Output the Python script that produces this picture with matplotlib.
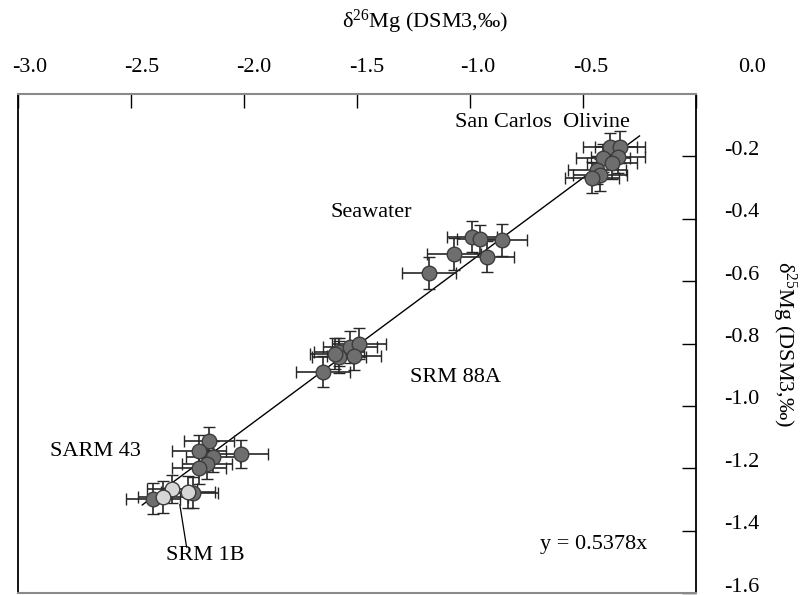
import numpy as np
import matplotlib
matplotlib.use("Agg")
import matplotlib.pyplot as plt
from matplotlib import transforms

plt.rcParams["font.family"] = ["Liberation Serif", "DejaVu Serif"]
plt.rcParams["mathtext.fontset"] = "custom"
plt.rcParams["mathtext.rm"] = "Liberation Serif"
plt.rcParams["mathtext.it"] = "Liberation Serif:italic"

# --- data (delta26Mg, delta25Mg, errors) ---
# San Carlos olivine
oliv_x = [-0.381, -0.336, -0.412, -0.345, -0.372, -0.438, -0.425, -0.460]
oliv_y = [-0.170, -0.170, -0.205, -0.202, -0.221, -0.244, -0.260, -0.269]
oliv_xe = [0.12, 0.11, 0.12, 0.12, 0.11, 0.13, 0.12, 0.12]
oliv_ye = [0.045, 0.050, 0.045, 0.050, 0.050, 0.045, 0.050, 0.050]

# seawater
sea_x = [-1.181, -1.071, -0.991, -0.956, -0.858, -0.925]
sea_y = [-0.574, -0.513, -0.458, -0.465, -0.468, -0.522]
sea_xe = [0.12, 0.12, 0.11, 0.10, 0.11, 0.12]
sea_ye = [0.050, 0.050, 0.050, 0.045, 0.050, 0.050]

# SRM 88A
srm88_x = [-1.650, -1.580, -1.580, -1.597, -1.531, -1.491, -1.513]
srm88_y = [-0.891, -0.827, -0.843, -0.833, -0.811, -0.801, -0.840]
srm88_xe = [0.12, 0.11, 0.12, 0.11, 0.12, 0.12, 0.12]
srm88_ye = [0.050, 0.045, 0.050, 0.050, 0.050, 0.050, 0.045]

# SARM 43
sarm_x = [-2.155, -2.199, -2.137, -2.013, -2.164, -2.199, -2.403, -2.226]
sarm_y = [-1.112, -1.144, -1.163, -1.154, -1.186, -1.199, -1.298, -1.279]
sarm_xe = [0.11, 0.12, 0.12, 0.12, 0.11, 0.12, 0.12, 0.11]
sarm_ye = [0.045, 0.050, 0.050, 0.045, 0.050, 0.050, 0.050, 0.050]

# SRM 1B
srm1b_x = [-2.319, -2.358, -2.248]
srm1b_y = [-1.266, -1.292, -1.276]
srm1b_xe = [0.11, 0.11, 0.12]
srm1b_ye = [0.045, 0.050, 0.050]

slope = 0.5378
line_x = [-2.45, -0.25]

xticks = [-3.0, -2.5, -2.0, -1.5, -1.0, -0.5, 0.0]
xtick_labels = ["-3.0", "-2.5", "-2.0", "-1.5", "-1.0", "-0.5", "0.0"]
yticks = [-0.2, -0.4, -0.6, -0.8, -1.0, -1.2, -1.4, -1.6]
ytick_labels = ["-0.2", "-0.4", "-0.6", "-0.8", "-1.0", "-1.2", "-1.4", "-1.6"]

# label positions (data coords)
labels = [
    ("San Carlos  Olivine", -1.066, -0.090),
    ("Seawater", -1.619, -0.381),
    ("SRM 88A", -1.265, -0.910),
    ("SARM 43", -2.858, -1.147),
    ("SRM 1B", -2.345, -1.481),
    ("y = 0.5378x", -0.690, -1.446),
]

fig = plt.figure(figsize=(8.03, 5.95), dpi=100)
ax = fig.add_axes([18 / 803, 2 / 595, 678 / 803, 499 / 595])
ax.set_xlim(-3.0, 0.0)
ax.set_ylim(-1.6, 0.0)

dark = "#6e6e6e"
light = "#d6d6d6"
edge = "#3c3c3c"
ebar = "#262626"

# regression line
lx = np.array(line_x)
ax.plot(lx, slope * lx, color="black", lw=1.0, zorder=1)

groups = [
    (oliv_x, oliv_y, oliv_xe, oliv_ye, dark),
    (sea_x, sea_y, sea_xe, sea_ye, dark),
    (srm88_x, srm88_y, srm88_xe, srm88_ye, dark),
    (sarm_x, sarm_y, sarm_xe, sarm_ye, dark),
    (srm1b_x, srm1b_y, srm1b_xe, srm1b_ye, light),
]
for gx, gy, gxe, gye, col in groups:
    ax.errorbar(gx, gy, xerr=gxe, yerr=gye, fmt="o", ms=10.5, mfc=col,
                mec=edge, mew=1.0, ecolor=ebar, elinewidth=1.2,
                capsize=4, capthick=1.2, zorder=3)

for txt, tx, ty in labels:
    ax.text(tx, ty, txt, fontsize=16, ha="left", va="center")

# pointer for SRM 1B
ax.annotate("", xy=(-2.286, -1.308), xytext=(-2.252, -1.462),
            arrowprops=dict(arrowstyle="-", color="black", lw=0.9))

# axes styling: ticks inside on top and right, labels placed by hand
ax.set_xticks(xticks)
ax.set_yticks(yticks)
ax.tick_params(axis="x", which="both", direction="in", length=10, width=1,
               top=True, bottom=False, labeltop=False, labelbottom=False)
ax.tick_params(axis="y", which="both", direction="in", length=10, width=1,
               right=True, left=False, labelright=False, labelleft=False)
for side in ["top", "bottom"]:
    ax.spines[side].set_color("#8a8a8a")
    ax.spines[side].set_linewidth(1.5)
for side in ["left", "right"]:
    ax.spines[side].set_color("black")
    ax.spines[side].set_linewidth(1.3)

x_label_dx = [12, 11, 10, 10, 8, 8, 56]
for xv, lab, dx in zip(xticks, xtick_labels, x_label_dx):
    tr = transforms.offset_copy(ax.get_xaxis_transform(), fig=fig,
                                x=dx, y=26, units="dots")
    ax.text(xv, 1.0, lab, transform=tr, fontsize=16, ha="center",
            va="center", clip_on=False)

for yv, lab in zip(yticks, ytick_labels):
    tr = transforms.offset_copy(ax.get_yaxis_transform(), fig=fig,
                                x=28, y=6, units="dots")
    ax.text(1.0, yv, lab, transform=tr, fontsize=16, ha="left",
            va="center", clip_on=False)

fig.text(425 / 803, 1 - 22 / 595, r"δ$^{26}$Mg (DSM3,‰)", fontsize=16,
         ha="center", va="center")
fig.text(784 / 803, 1 - 344 / 595, r"δ$^{25}$Mg (DSM3,‰)", fontsize=16,
         ha="center", va="center", rotation=270)

fig.savefig("out.png", dpi=100)
